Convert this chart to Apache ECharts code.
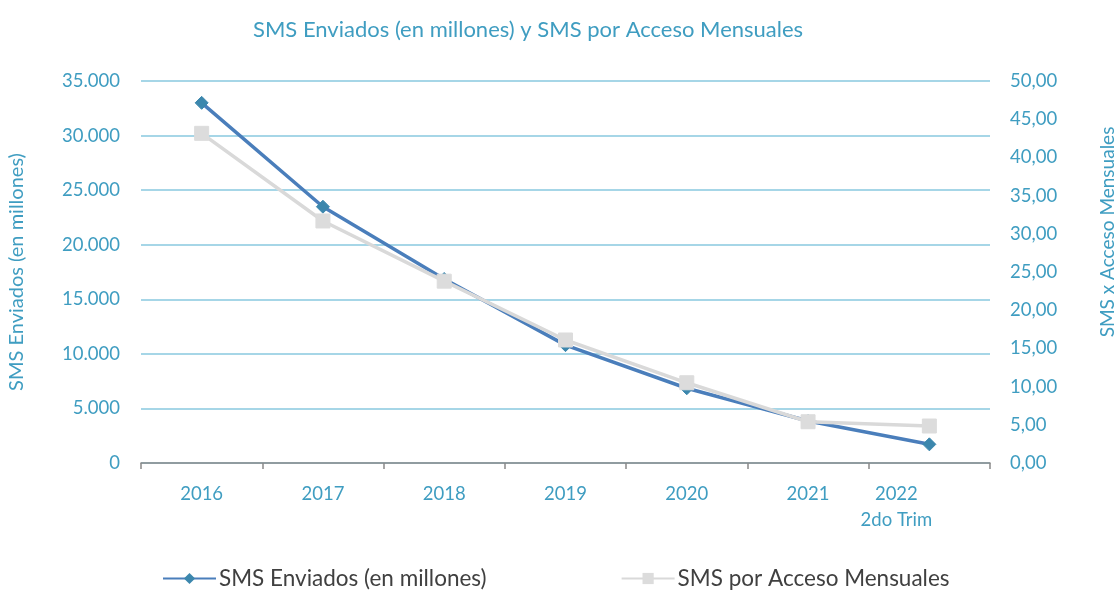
<!DOCTYPE html>
<html>
<head>
<meta charset="utf-8">
<script src="https://cdn.jsdelivr.net/npm/echarts@6/dist/echarts.min.js"></script>
<style>
  html, body { margin: 0; padding: 0; background: #fff; }
  #chart { width: 1119px; height: 597px; }
</style>
</head>
<body>
<div id="chart"></div>
<script>
// Categories and values
var categories = ['2016', '2017', '2018', '2019', '2020', '2021', '2022\n2do Trim'];
var smsEnviados = [33000, 23480, 16860, 10800, 6850, 3850, 1710];
var smsPorAcceso = [43.15, 31.68, 23.8, 16.1, 10.5, 5.4, 4.84];
var leftTicks = { min: 0, max: 35000, interval: 5000 };
var rightTicks = { min: 0, max: 50, interval: 5 };

var teal = '#3f9dc1';
var font = 'Lato';

function fmtThousands(v) {
  return String(Math.round(v)).replace(/\B(?=(\d{3})+(?!\d))/g, '.');
}
function fmtDecimal(v) {
  return v.toFixed(2).replace('.', ',');
}

var chart = echarts.init(document.getElementById('chart'));
chart.setOption({
  animation: false,
  textStyle: { fontFamily: font },
  title: {
    text: 'SMS Enviados (en millones) y SMS por Acceso Mensuales',
    left: 248,
    top: 14,
    textStyle: { color: teal, fontSize: 22, fontWeight: 'normal', fontFamily: font }
  },
  grid: { left: 141, right: 129, top: 81, bottom: 134, containLabel: false, outerBoundsMode: 'none' },
  legend: {
    bottom: 2,
    left: 157,
    itemWidth: 53,
    itemHeight: 14,
    itemGap: 134,
    textStyle: { color: '#404040', fontSize: 22.5, fontFamily: font, padding: [0, 0, 0, -2] },
    data: ['SMS Enviados (en millones)', 'SMS por Acceso Mensuales']
  },
  xAxis: {
    type: 'category',
    data: categories,
    boundaryGap: true,
    axisLine: { lineStyle: { color: '#898989', width: 1.5 } },
    axisTick: { show: true, length: 6, lineStyle: { color: '#898989', width: 1.5 } },
    axisLabel: {
      color: teal,
      fontSize: 18.5,
      margin: 18,
      lineHeight: 26,
      formatter: function (v) {
        if (v.indexOf('\n') >= 0) return '{s|' + v + '}';
        return v;
      },
      rich: {
        s: { color: teal, fontSize: 18.5, lineHeight: 26, fontFamily: font, padding: [0, 66, 0, 0] }
      }
    }
  },
  yAxis: [
    {
      type: 'value',
      min: leftTicks.min,
      max: leftTicks.max,
      interval: leftTicks.interval,
      name: 'SMS Enviados (en millones)',
      nameLocation: 'middle',
      nameRotate: 90,
      nameGap: 114,
      nameTextStyle: { color: teal, fontSize: 20, fontFamily: font },
      axisLine: { show: false },
      axisTick: { show: false },
      axisLabel: { color: teal, fontSize: 18.5, margin: 21, formatter: fmtThousands },
      splitLine: { lineStyle: { color: '#a6d6e7', width: 2 } }
    },
    {
      type: 'value',
      min: rightTicks.min,
      max: rightTicks.max,
      interval: rightTicks.interval,
      position: 'right',
      name: 'SMS x Acceso Mensuales',
      nameLocation: 'middle',
      nameRotate: 90,
      nameGap: 108,
      nameTextStyle: { color: teal, fontSize: 19, fontFamily: font, padding: [0, 0, 0, 80] },
      axisLine: { show: false },
      axisTick: { show: false },
      axisLabel: { color: teal, fontSize: 18.5, margin: 20, formatter: fmtDecimal },
      splitLine: { show: false }
    }
  ],
  series: [
    {
      name: 'SMS Enviados (en millones)',
      type: 'line',
      yAxisIndex: 0,
      data: smsEnviados,
      symbol: 'diamond',
      symbolSize: 13,
      z: 3,
      lineStyle: { color: '#4a7ebb', width: 3.5 },
      itemStyle: { color: '#3c87ad', borderColor: '#3c87ad' }
    },
    {
      name: 'SMS por Acceso Mensuales',
      type: 'line',
      yAxisIndex: 1,
      data: smsPorAcceso,
      symbol: 'rect',
      symbolSize: 14,
      z: 4,
      lineStyle: { color: '#d9d9d9', width: 3.5 },
      itemStyle: { color: '#dcdcdc', borderColor: '#dcdcdc' }
    }
  ]
});
</script>
</body>
</html>
